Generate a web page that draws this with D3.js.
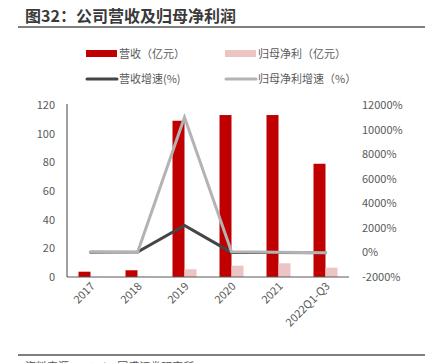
<!DOCTYPE html>
<html>
<head>
<meta charset="utf-8">
<script src="https://cdn.jsdelivr.net/npm/d3@7"></script>
<style>
  body { margin: 0; background: #fff; }
  text { font-family: "Noto Sans CJK SC", "Noto Sans", sans-serif; }
</style>
</head>
<body>
<div class="chart"></div>
<script>
var years = ['2017', '2018', '2019', '2020', '2021', '2022Q1-Q3']
var revenue = [3.7, 4.7, 109, 113, 113, 79]
var netProfit = [0.05, 0.1, 5.4, 7.9, 9.6, 6.5]
var revenueGrowth = [20, 27, 2200, 4, 0, -30]
var profitGrowth = [30, 0, 11000, 46, 22, -20]
var leftTicks = [0, 20, 40, 60, 80, 100, 120]
var rightTicks = [-2000, 0, 2000, 4000, 6000, 8000, 10000, 12000]

var width = 435
var height = 363
var margin = {top: 105, left: 67, right: 86, bottom: 87}
var textColor = '#595959'

var svg = d3.select('.chart')
  .append('svg')
  .attr('width', width)
  .attr('height', height)

// title
svg.append('text')
  .attr('x', 25)
  .attr('y', 22)
  .style('font-size', '16px')
  .style('font-weight', 'bold')
  .style('fill', '#3a3a3a')
  .text('图32：公司营收及归母净利润')

svg.append('line')
  .attr('x1', 18).attr('x2', 425)
  .attr('y1', 27).attr('y2', 27)
  .style('stroke', '#555').style('stroke-width', 1.5)

// scales
var x = d3.scaleBand()
  .domain(years)
  .range([margin.left, width - margin.right])

var yLeft = d3.scaleLinear()
  .domain([0, 120])
  .range([height - margin.bottom + 1, margin.top])

var yRight = d3.scaleLinear()
  .domain([-2000, 12000])
  .range([height - margin.bottom + 1, margin.top])

// left ticks
svg.selectAll('.ltick')
  .data(leftTicks)
  .enter().append('text')
  .attr('x', 55)
  .attr('y', function (d) { return yLeft(d) + 4 })
  .attr('text-anchor', 'end')
  .style('font-size', '11px')
  .style('fill', textColor)
  .text(function (d) { return d })

// right ticks
svg.selectAll('.rtick')
  .data(rightTicks)
  .enter().append('text')
  .attr('x', 362)
  .attr('y', function (d) { return yRight(d) + 4 })
  .style('font-size', '11px')
  .style('fill', textColor)
  .text(function (d) { return d + '%' })

// bars
var barW = 12
svg.selectAll('.rev')
  .data(revenue)
  .enter().append('rect')
  .attr('x', function (d, i) { return x(years[i]) + x.bandwidth() / 2 - barW })
  .attr('y', function (d) { return yLeft(d) })
  .attr('width', barW)
  .attr('height', function (d) { return yLeft(0) - yLeft(d) })
  .style('fill', '#C00000')

svg.selectAll('.np')
  .data(netProfit)
  .enter().append('rect')
  .attr('x', function (d, i) { return x(years[i]) + x.bandwidth() / 2 })
  .attr('y', function (d) { return yLeft(d) })
  .attr('width', barW)
  .attr('height', function (d) { return yLeft(0) - yLeft(d) })
  .style('fill', '#ECC4C4')

// axes lines
svg.append('line')
  .attr('x1', margin.left).attr('x2', margin.left)
  .attr('y1', margin.top - 1).attr('y2', yLeft(0))
  .style('stroke', '#404040').style('stroke-width', 1)

svg.append('line')
  .attr('x1', margin.left).attr('x2', width - margin.right)
  .attr('y1', yLeft(0)).attr('y2', yLeft(0))
  .style('stroke', '#595959').style('stroke-width', 1.2)

// lines
var lineFn = d3.line()
  .x(function (d, i) { return x(years[i]) + x.bandwidth() / 2 })
  .y(function (d) { return yRight(d) })

svg.append('path')
  .datum(revenueGrowth)
  .attr('d', lineFn)
  .style('fill', 'none')
  .style('stroke', '#454545')
  .style('stroke-width', 3)
  .style('stroke-linecap', 'round')

svg.append('path')
  .datum(profitGrowth)
  .attr('d', lineFn)
  .style('fill', 'none')
  .style('stroke', '#B3B3B3')
  .style('stroke-width', 3)
  .style('stroke-linecap', 'round')

// x labels
svg.selectAll('.xlab')
  .data(years)
  .enter().append('text')
  .attr('transform', function (d) {
    return 'translate(' + (x(d) + x.bandwidth() / 2 + 5) + ',' + (yLeft(0) + 10) + ') rotate(-45)'
  })
  .attr('text-anchor', 'end')
  .style('font-size', '11px')
  .style('fill', textColor)
  .text(function (d) { return d })

// legend
var legend = [
  {label: '营收（亿元）', color: '#C00000', type: 'rect', x: 86, y: 53.5},
  {label: '归母净利（亿元）', color: '#ECC4C4', type: 'rect', x: 225, y: 53.5},
  {label: '营收增速(%)', color: '#454545', type: 'line', x: 86, y: 79},
  {label: '归母净利增速（%）', color: '#B3B3B3', type: 'line', x: 225, y: 79}
]

legend.forEach(function (l) {
  if (l.type === 'rect') {
    svg.append('rect')
      .attr('x', l.x).attr('y', l.y - 3.5)
      .attr('width', 31).attr('height', 7)
      .style('fill', l.color)
  } else {
    svg.append('line')
      .attr('x1', l.x + 1).attr('x2', l.x + 31)
      .attr('y1', l.y).attr('y2', l.y)
      .style('stroke', l.color).style('stroke-width', 3)
      .style('stroke-linecap', 'round')
  }
  svg.append('text')
    .attr('x', l.x + 33)
    .attr('y', l.y + 4)
    .style('font-size', '11px')
    .style('fill', textColor)
    .text(l.label)
})

// footer
svg.append('line')
  .attr('x1', 18).attr('x2', 425)
  .attr('y1', 355).attr('y2', 355)
  .style('stroke', '#555').style('stroke-width', 1.5)

svg.append('text')
  .attr('x', 25)
  .attr('y', 371)
  .style('font-size', '11px')
  .style('fill', textColor)
  .text('资料来源：Wind，国盛证券研究所')
</script>
</body>
</html>
